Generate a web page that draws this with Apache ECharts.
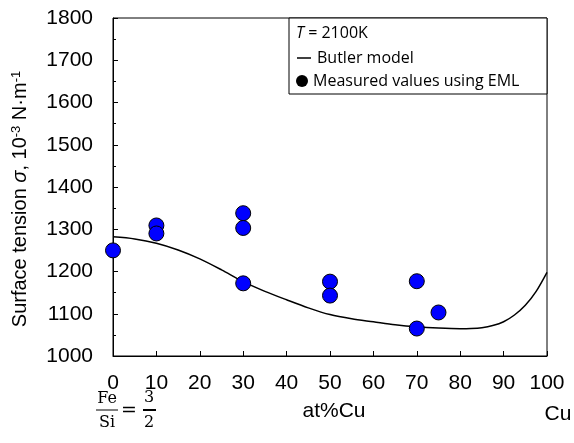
<!DOCTYPE html>
<html>
<head>
<meta charset="utf-8">
<script src="https://cdn.jsdelivr.net/npm/echarts@6/dist/echarts.min.js"></script>
<style>
  html, body { margin: 0; padding: 0; background: #fff; }
  #chart { width: 574px; height: 443px; }
</style>
</head>
<body>
<div id="chart"></div>
<script>
// Butler model curve, T = 2100K
const modelX = [0, 5, 10, 15, 20, 25, 30, 35, 40, 45, 50, 55, 60, 65, 70, 75, 80, 82.5, 85, 87.5, 90, 92.5, 95, 97.5, 100]
const modelY = [1282, 1277, 1267, 1251, 1230, 1204, 1176, 1153, 1133, 1114, 1098, 1088, 1081, 1074, 1069, 1066, 1064.5, 1065, 1067, 1072, 1081, 1097, 1120, 1153, 1198]

// measured values using EML
const measX = [0, 10, 10, 30, 30, 30, 50, 50, 70, 70, 75]
const measY = [1250, 1309, 1290, 1338, 1303, 1172, 1176, 1143, 1177, 1065, 1103]

const chart = echarts.init(document.getElementById('chart'))

const labelFont = 'Liberation Sans, Arial, sans-serif'
const legendFont = 'Open Sans, Noto Sans, sans-serif'
const mathFont = 'DejaVu Serif, Liberation Serif, serif'

const option = {
  animation: false,
  grid: {
    left: 113,
    right: 27,
    top: 18,
    bottom: 87,
    show: true,
    borderColor: '#000',
    borderWidth: 1
  },
  xAxis: {
    type: 'value',
    min: 0,
    max: 100,
    interval: 10,
    axisLine: { lineStyle: { color: '#000', width: 1 } },
    axisTick: { inside: true, length: 5, lineStyle: { color: '#000' } },
    splitLine: { show: false },
    axisLabel: { color: '#000', fontSize: 21, fontFamily: labelFont, margin: 17 }
  },
  yAxis: {
    type: 'value',
    min: 1000,
    max: 1800,
    interval: 100,
    axisLine: { show: true, lineStyle: { color: '#000', width: 1 } },
    axisTick: { inside: true, length: 5, lineStyle: { color: '#000' } },
    minorTick: { show: true, splitNumber: 2, length: 3, lineStyle: { color: '#000' } },
    splitLine: { show: false },
    axisLabel: { color: '#000', fontSize: 21, fontFamily: labelFont, margin: 20, formatter: v => String(v) }
  },
  series: [
    {
      name: 'Butler model',
      type: 'line',
      smooth: 0.3,
      symbol: 'none',
      lineStyle: { color: '#000', width: 1.5 },
      data: modelX.map((x, i) => [x, modelY[i]]),
      z: 2
    },
    {
      name: 'Measured values using EML',
      type: 'scatter',
      symbolSize: 15,
      itemStyle: { color: '#0000ff', borderColor: '#000', borderWidth: 1, opacity: 1 },
      data: measX.map((x, i) => [x, measY[i]]),
      z: 3
    }
  ],
  graphic: [
    // y axis title
    {
      type: 'text',
      x: 20, y: 199,
      rotation: Math.PI / 2,
      style: {
        text: '{n|Surface tension }{i|σ}{n|, 10}{s|-3}{n| N·m}{s|-1}',
        align: 'center',
        verticalAlign: 'middle',
        rich: {
          n: { fontSize: 20, fontFamily: labelFont, fill: '#000' },
          i: { fontSize: 20, fontFamily: labelFont, fontStyle: 'italic', fill: '#000' },
          s: { fontSize: 13, fontFamily: labelFont, fill: '#000', verticalAlign: 'top', padding: [0, 0, 8, 0] }
        }
      }
    },
    // legend box
    {
      type: 'rect',
      shape: { x: 289, y: 18, width: 258, height: 76 },
      style: { fill: '#fff', stroke: '#000', lineWidth: 1 },
      z: 10
    },
    {
      type: 'text',
      x: 296, y: 33,
      style: {
        text: '{i|T} = 2100K',
        verticalAlign: 'middle',
        rich: {
          i: { fontStyle: 'italic', fontSize: 16, fontFamily: legendFont, fill: '#000' }
        },
        fontSize: 16, fontFamily: legendFont, fill: '#000'
      },
      z: 11
    },
    {
      type: 'line',
      shape: { x1: 297, y1: 58, x2: 311, y2: 58 },
      style: { stroke: '#000', lineWidth: 1.5 },
      z: 11
    },
    {
      type: 'text',
      x: 317, y: 58,
      style: { text: 'Butler model', verticalAlign: 'middle', fontSize: 16, fontFamily: legendFont, fill: '#000' },
      z: 11
    },
    {
      type: 'circle',
      shape: { cx: 302, cy: 81, r: 6 },
      style: { fill: '#000' },
      z: 11
    },
    {
      type: 'text',
      x: 313, y: 81,
      style: { text: 'Measured values using EML', verticalAlign: 'middle', fontSize: 16, fontFamily: legendFont, fill: '#000' },
      z: 11
    },
    // axis labels under the plot
    {
      type: 'text',
      x: 334, y: 411,
      style: { text: 'at%Cu', align: 'center', verticalAlign: 'middle', fontSize: 21, fontFamily: labelFont, fill: '#000' }
    },
    {
      type: 'text',
      x: 558, y: 414,
      style: { text: 'Cu', align: 'center', verticalAlign: 'middle', fontSize: 21, fontFamily: labelFont, fill: '#000' }
    },
    // Fe/Si = 3/2
    {
      type: 'text',
      x: 107, y: 399,
      style: { text: 'Fe', align: 'center', verticalAlign: 'middle', fontSize: 16, fontFamily: mathFont, fill: '#000' }
    },
    {
      type: 'line',
      shape: { x1: 96, y1: 410, x2: 118, y2: 410 },
      style: { stroke: '#000', lineWidth: 1 }
    },
    {
      type: 'text',
      x: 107, y: 423,
      style: { text: 'Si', align: 'center', verticalAlign: 'middle', fontSize: 16, fontFamily: mathFont, fill: '#000' }
    },
    {
      type: 'text',
      x: 129, y: 411,
      style: { text: '=', align: 'center', verticalAlign: 'middle', fontSize: 19, fontFamily: mathFont, fill: '#000' }
    },
    {
      type: 'text',
      x: 149, y: 398,
      style: { text: '3', align: 'center', verticalAlign: 'middle', fontSize: 16, fontFamily: mathFont, fill: '#000' }
    },
    {
      type: 'line',
      shape: { x1: 143, y1: 410, x2: 156, y2: 410 },
      style: { stroke: '#000', lineWidth: 2 }
    },
    {
      type: 'text',
      x: 149, y: 423,
      style: { text: '2', align: 'center', verticalAlign: 'middle', fontSize: 16, fontFamily: mathFont, fill: '#000' }
    }
  ]
}

chart.setOption(option)
</script>
</body>
</html>
